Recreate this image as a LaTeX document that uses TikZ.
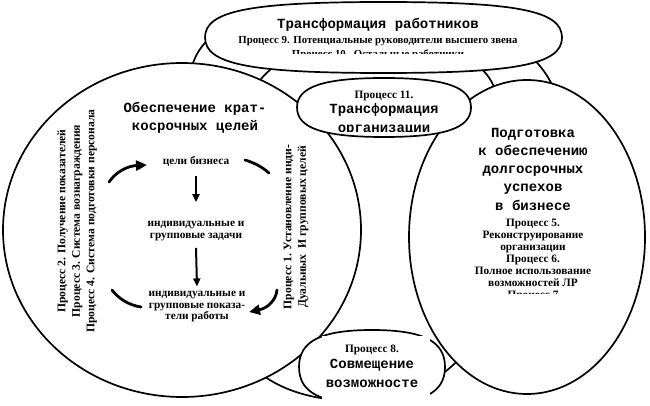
\documentclass[tikz,border=0pt]{standalone}
\usepackage{fontspec}
\setmainfont{Liberation Serif}
\newfontfamily\monofam{Liberation Mono}
\usetikzlibrary{shapes.geometric,arrows.meta}
\tikzset{
  x=1pt, y=-1pt,
  outline/.style={draw=black, line width=1.7pt, fill=white},
  bgarc/.style={draw=black, line width=1.7pt},
  cyc/.style={line width=2.8pt, line cap=round},
  small/.style={font=\bfseries\fontsize{11.3}{11.5}\selectfont, inner sep=0pt, align=center},
  smallT/.style={font=\bfseries\fontsize{10.8}{12}\selectfont, inner sep=0pt, align=center},
  big/.style={font=\monofam\bfseries\fontsize{14}{18}\selectfont, inner sep=0pt, align=center},
  side/.style={font=\bfseries\fontsize{11.6}{14.5}\selectfont, inner sep=0pt, align=center, rotate=90},
  downarrow/.style={line width=2pt, -{Triangle[length=8pt,width=7pt]}},
  cyctip/.style={-{Triangle[length=11pt,width=10pt]}},
  boxfill/.style={fill=white, draw=none},
}
\newcommand\fatoval[6]{% name, cx, cy, rx, ry, k
  \coordinate (#1) at (#2,#3);
  \begin{scope}[shift={(#2,#3)}, xscale=#4, yscale=#5]
    \path[outline] (-1,0) .. controls (-1,-#6) and (-#6,-1) .. (0,-1)
      .. controls (#6,-1) and (1,-#6) .. (1,0)
      .. controls (1,#6) and (#6,1) .. (0,1)
      .. controls (-#6,1) and (-1,#6) .. cycle;
  \end{scope}}
\begin{document}
\begin{tikzpicture}
\fill[white] (0,0) rectangle (650,406);
\useasboundingbox (0,0) rectangle (650,406);
% background arc fragments
\draw[bgarc] (189,82) .. controls (191,62) and (198,48) .. (212,36);
\draw[bgarc] (528,54) .. controls (541,65) and (550,78) .. (557,96);
\draw[bgarc] (256,86) .. controls (261,78) and (266,73) .. (277,64);
\draw[bgarc] (476,64) .. controls (487,73) and (493,81) .. (497,96);
\draw[bgarc] (252,366) .. controls (300,415) and (425,415) .. (470,345);
% main shapes
\node[outline, ellipse, minimum width=358pt, minimum height=334pt, inner sep=0pt] (L) at (182,230) {};
\node[outline, ellipse, minimum width=236pt, minimum height=314pt, inner sep=0pt] (R) at (527,237) {};
\fatoval{T}{383.5}{37.5}{178.5}{35.5}{0.75}
\fatoval{C}{384}{107.5}{87}{29.5}{0.7}
\fatoval{B}{372}{367}{73}{37}{0.7}
\fill[boxfill] (322,336) rectangle (430,410);
% top oval text
\node[big, anchor=base] (ttitle) at (378,29) {Трансформация работников};
\node[smallT, anchor=base] (t9) at (378,44) {Процесс 9. Потенциальные руководители высшего звена};
\begin{scope}
  \clip (220,5) rectangle (545,53.5);
  \node[smallT, anchor=base] (t10) at (378,57.5) {Процесс 10.\ \ Остальные работники};
\end{scope}
% centre top oval
\node[small, anchor=base] (c11) at (384,99) {Процесс 11.};
\node[big, anchor=base] (ctr) at (384,114) {Трансформация};
\begin{scope}
  \clip (300,100) rectangle (470,131.5);
  \node[big, anchor=base] (corg) at (384,133) {организации};
\end{scope}
% bottom oval
\node[small, anchor=base] (b8) at (372,352) {Процесс 8.};
\node[big, anchor=base] (bsov) at (372,368) {Совмещение};
\node[big, anchor=base] (bvoz) at (372,387) {возможносте};
% left circle
\node[big, anchor=base] (ltitle1) at (195,113) {Обеспечение крат-};
\node[big, anchor=base] (ltitle2) at (195,131) {косрочных целей};
\node[small, anchor=base] (goal) at (196,165) {цели бизнеса};
\node[small] (tasks) at (196,231) {индивидуальные и\\групповые задачи};
\node[small] (perf) at (197,307) {индивидуальные и\\групповые показа-\\тели работы};
\draw[downarrow] ([yshift=-11pt]goal.base) -- ([yshift=19pt]tasks.north);
\draw[downarrow] ([yshift=-7pt]tasks.south) -- ([yshift=5pt]perf.north);
\draw[cyc, cyctip] (109,182) .. controls (116,172) and (127,166) .. (147,165);
\draw[cyc] (245,160) .. controls (255,163) and (262,167) .. (269,173);
\draw[cyc, cyctip] (277,290) .. controls (276,300) and (268,308) .. (249,312);
\draw[cyc] (112,290) .. controls (118,298) and (128,305) .. (141,307);
\node[side] (lside) at (77,221) {Процесс 2. Получение показателей\\Процесс 3. Система вознаграждения\\Процесс 4. Система подготовки персонала};
\node[side] (rside) at (296,227) {Процесс 1. Установление инди-\\Дуальных\ \ И групповых целей};
% right oval
\node[big, anchor=base] (r1) at (533,138) {Подготовка};
\node[big, anchor=base] (r2) at (533,156) {к обеспечению};
\node[big, anchor=base] (r3) at (533,174) {долгосрочных};
\node[big, anchor=base] (r4) at (533,192) {успехов};
\node[big, anchor=base] (r5) at (533,210) {в бизнесе};
\node[small, anchor=base] (r6) at (533,226) {Процесс 5.};
\node[small, anchor=base] (r7) at (533,238) {Реконструирование};
\node[small, anchor=base] (r8) at (533,250) {организации};
\node[small, anchor=base] (r9) at (533,262) {Процесс 6.};
\node[small, anchor=base] (r10) at (533,274) {Полное использование};
\node[small, anchor=base] (r11) at (533,286) {возможностей ЛР};
\begin{scope}
  \clip (460,280) rectangle (610,293.5);
  \node[small, anchor=base] (r12) at (533,298) {Процесс 7};
\end{scope}
\end{tikzpicture}
\end{document}
